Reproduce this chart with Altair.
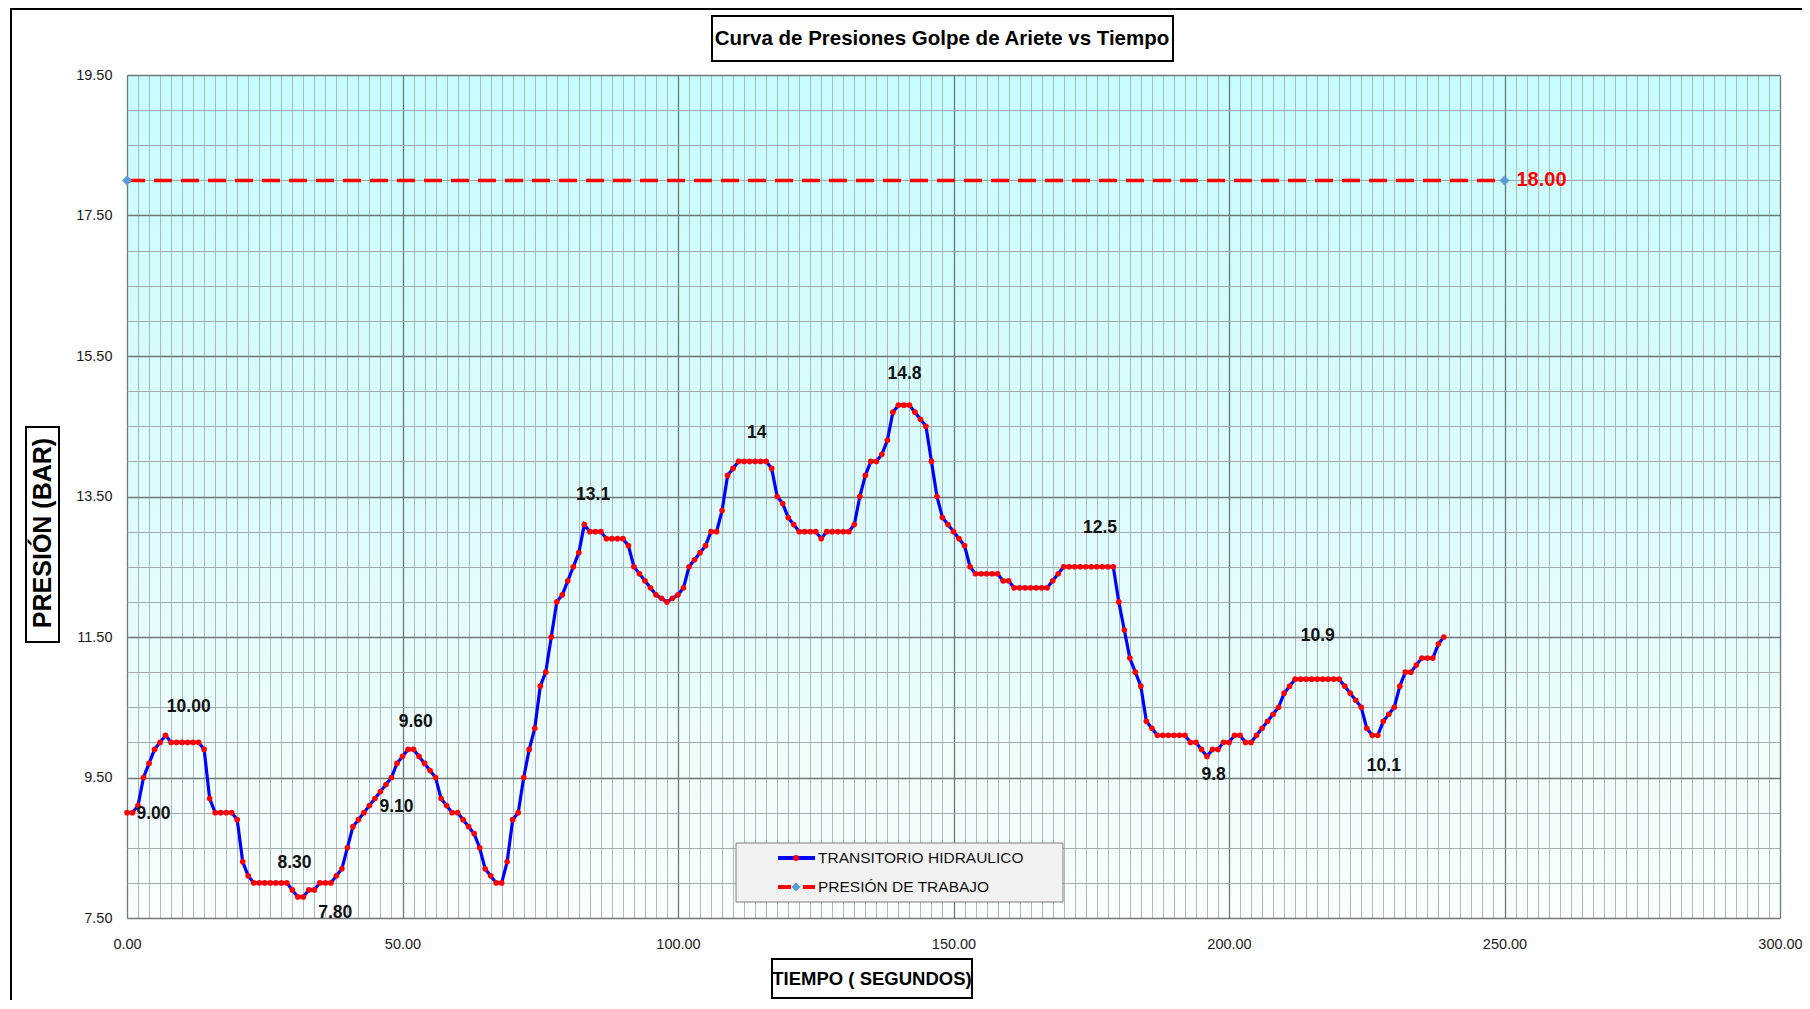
import altair as alt
import pandas as pd

# ---------------- data ----------------
time_s = [
    0, 1, 2, 3, 4, 5, 6, 7, 8, 9, 10, 11, 12, 13, 14, 15, 16, 17, 18, 19,
    20, 21, 22, 23, 24, 25, 26, 27, 28, 29, 30, 31, 32, 33, 34, 35, 36, 37, 38, 39,
    40, 41, 42, 43, 44, 45, 46, 47, 48, 49, 50, 51, 52, 53, 54, 55, 56, 57, 58, 59,
    60, 61, 62, 63, 64, 65, 66, 67, 68, 69, 70, 71, 72, 73, 74, 75, 76, 77, 78, 79,
    80, 81, 82, 83, 84, 85, 86, 87, 88, 89, 90, 91, 92, 93, 94, 95, 96, 97, 98, 99,
    100, 101, 102, 103, 104, 105, 106, 107, 108, 109, 110, 111, 112, 113, 114, 115, 116, 117, 118, 119,
    120, 121, 122, 123, 124, 125, 126, 127, 128, 129, 130, 131, 132, 133, 134, 135, 136, 137, 138, 139,
    140, 141, 142, 143, 144, 145, 146, 147, 148, 149, 150, 151, 152, 153, 154, 155, 156, 157, 158, 159,
    160, 161, 162, 163, 164, 165, 166, 167, 168, 169, 170, 171, 172, 173, 174, 175, 176, 177, 178, 179,
    180, 181, 182, 183, 184, 185, 186, 187, 188, 189, 190, 191, 192, 193, 194, 195, 196, 197, 198, 199,
    200, 201, 202, 203, 204, 205, 206, 207, 208, 209, 210, 211, 212, 213, 214, 215, 216, 217, 218, 219,
    220, 221, 222, 223, 224, 225, 226, 227, 228, 229, 230, 231, 232, 233, 234, 235, 236, 237, 238, 239,
]

pressure_bar = [
    9.0, 9.0, 9.1, 9.5, 9.7, 9.9, 10.0, 10.1, 10.0, 10.0,
    10.0, 10.0, 10.0, 10.0, 9.9, 9.2, 9.0, 9.0, 9.0, 9.0,
    8.9, 8.3, 8.1, 8.0, 8.0, 8.0, 8.0, 8.0, 8.0, 8.0,
    7.9, 7.8, 7.8, 7.9, 7.9, 8.0, 8.0, 8.0, 8.1, 8.2,
    8.5, 8.8, 8.9, 9.0, 9.1, 9.2, 9.3, 9.4, 9.5, 9.7,
    9.8, 9.9, 9.9, 9.8, 9.7, 9.6, 9.5, 9.2, 9.1, 9.0,
    9.0, 8.9, 8.8, 8.7, 8.5, 8.2, 8.1, 8.0, 8.0, 8.3,
    8.9, 9.0, 9.5, 9.9, 10.2, 10.8, 11.0, 11.5, 12.0, 12.1,
    12.3, 12.5, 12.7, 13.1, 13.0, 13.0, 13.0, 12.9, 12.9, 12.9,
    12.9, 12.8, 12.5, 12.4, 12.3, 12.2, 12.1, 12.05, 12.0, 12.05,
    12.1, 12.2, 12.5, 12.6, 12.7, 12.8, 13.0, 13.0, 13.3, 13.8,
    13.9, 14.0, 14.0, 14.0, 14.0, 14.0, 14.0, 13.9, 13.5, 13.4,
    13.2, 13.1, 13.0, 13.0, 13.0, 13.0, 12.9, 13.0, 13.0, 13.0,
    13.0, 13.0, 13.1, 13.5, 13.8, 14.0, 14.0, 14.1, 14.3, 14.7,
    14.8, 14.8, 14.8, 14.7, 14.6, 14.5, 14.0, 13.5, 13.2, 13.1,
    13.0, 12.9, 12.8, 12.5, 12.4, 12.4, 12.4, 12.4, 12.4, 12.3,
    12.3, 12.2, 12.2, 12.2, 12.2, 12.2, 12.2, 12.2, 12.3, 12.4,
    12.5, 12.5, 12.5, 12.5, 12.5, 12.5, 12.5, 12.5, 12.5, 12.5,
    12.0, 11.6, 11.2, 11.0, 10.8, 10.3, 10.2, 10.1, 10.1, 10.1,
    10.1, 10.1, 10.1, 10.0, 10.0, 9.9, 9.8, 9.9, 9.9, 10.0,
    10.0, 10.1, 10.1, 10.0, 10.0, 10.1, 10.2, 10.3, 10.4, 10.5,
    10.7, 10.8, 10.9, 10.9, 10.9, 10.9, 10.9, 10.9, 10.9, 10.9,
    10.9, 10.8, 10.7, 10.6, 10.5, 10.2, 10.1, 10.1, 10.3, 10.4,
    10.5, 10.8, 11.0, 11.0, 11.1, 11.2, 11.2, 11.2, 11.4, 11.5,
]

work_time_s = [0, 250]
work_pressure_bar = [18.0, 18.0]

annot_text = ["10.00", "9.00", "8.30", "7.80", "9.60", "9.10", "13.1",
              "14", "14.8", "12.5", "9.8", "10.9", "10.1"]
annot_time = [11.2, 4.8, 30.4, 37.8, 52.4, 48.9, 84.6,
              114.3, 141.1, 176.6, 197.2, 216.1, 228.1]
annot_pressure = [10.5, 8.98, 8.28, 7.57, 10.29, 9.08, 13.52,
                  14.4, 15.24, 13.05, 9.54, 11.51, 9.67]

series_names = ["TRANSITORIO HIDRAULICO", "PRESIÓN DE TRABAJO"]
chart_title = "Curva de Presiones Golpe de Ariete vs Tiempo"
x_title = "TIEMPO ( SEGUNDOS)"
y_title = "PRESIÓN (BAR)"

# ---------------- styling ----------------
FONT = "'Liberation Sans', Arial, sans-serif"
W, H = 1653, 843

x_grid_values = list(range(0, 301, 2))
y_grid_values = [7.5 + 0.5 * k for k in range(25)]

x_major = "datum.value % 50 === 0"
y_major = "(datum.value - 7.5) % 2 === 0"

x_axis = alt.Axis(
    values=x_grid_values, grid=True, ticks=False, domain=False,
    gridColor={"condition": {"test": x_major, "value": "#6f7878"}, "value": "#a8b2b2"},
    gridWidth={"condition": {"test": x_major, "value": 1.3}, "value": 0.9},
    labelExpr=f"{x_major} ? format(datum.value, '.2f') : ''",
    labelFont=FONT, labelFontSize=14.5, labelColor="#1a1a1a",
    labelPadding=19, labelFlush=False, labelOverlap=False, title=None,
)
y_axis = alt.Axis(
    values=y_grid_values, grid=True, ticks=False, domain=False,
    gridColor={"condition": {"test": y_major, "value": "#6f7878"}, "value": "#9aa4a4"},
    gridWidth={"condition": {"test": y_major, "value": 1.3}, "value": 0.9},
    labelExpr=f"{y_major} ? format(datum.value, '.2f') : ''",
    labelFont=FONT, labelFontSize=14.5, labelColor="#1a1a1a",
    labelPadding=15, labelFlush=False, labelOverlap=False, title=None,
)

X = alt.X("t:Q", scale=alt.Scale(domain=[0, 300], nice=False, zero=False), axis=x_axis)
Y = alt.Y("p:Q", scale=alt.Scale(domain=[7.5, 19.5], nice=False, zero=False), axis=y_axis)

main_df = pd.DataFrame({"t": time_s, "p": pressure_bar})
work_df = pd.DataFrame({"t": work_time_s, "p": work_pressure_bar})
annot_df = pd.DataFrame({"t": annot_time, "p": annot_pressure, "label": annot_text})
work_lbl_df = pd.DataFrame({"t": [work_time_s[-1]], "p": [work_pressure_bar[-1]],
                            "label": [f"{work_pressure_bar[-1]:.2f}"]})

work_line = alt.Chart(work_df).mark_line(
    color="#ff0000", strokeWidth=3.5, strokeDash=[18, 9]).encode(x=X, y=Y)
work_pts = alt.Chart(work_df).mark_point(
    shape="diamond", filled=True, color="#5b9bd5", size=100, opacity=1).encode(x=X, y=Y)
main_line = alt.Chart(main_df).mark_line(color="#0000ff", strokeWidth=3.2).encode(x=X, y=Y)
main_pts = alt.Chart(main_df).mark_circle(color="#ff0000", size=32, opacity=1).encode(x=X, y=Y)
annots = alt.Chart(annot_df).mark_text(
    font=FONT, fontSize=17.5, fontWeight="bold", color="#111111").encode(x=X, y=Y, text="label:N")
work_lbl = alt.Chart(work_lbl_df).mark_text(
    font=FONT, fontSize=20, fontWeight="bold", color="#ff0000", align="left", dx=12
).encode(x=X, y=Y, text="label:N")

one = pd.DataFrame({"k": [0]})


def box(x1, x2, y1, y2, fill, stroke, sw):
    return alt.Chart(one).mark_rect(fill=fill, stroke=stroke, strokeWidth=sw).encode(
        x=alt.value(x1), x2=alt.value(x2), y=alt.value(y1), y2=alt.value(y2))


def label(text, x, y, **kw):
    return alt.Chart(pd.DataFrame({"s": [text]})).mark_text(baseline="middle", **kw).encode(
        x=alt.value(x), y=alt.value(y), text="s:N")


def hrule(x1, x2, y, color, sw):
    return alt.Chart(one).mark_rule(color=color, strokeWidth=sw).encode(
        x=alt.value(x1), x2=alt.value(x2), y=alt.value(y))


# legend (drawn by hand)
leg_box = box(609, 936, 768, 827, "#f2f2f2", "#7f7f7f", 1)
leg_l1 = hrule(651, 688, 783, "#0000ff", 4)
leg_p1 = alt.Chart(one).mark_circle(color="#ff0000", size=34, opacity=1).encode(
    x=alt.value(669), y=alt.value(783))
leg_l2a = hrule(651, 664, 812, "#ff0000", 4)
leg_l2b = hrule(676, 688, 812, "#ff0000", 4)
leg_p2 = alt.Chart(one).mark_point(shape="diamond", filled=True, color="#5b9bd5",
                                   size=80, opacity=1).encode(x=alt.value(669), y=alt.value(812))
leg_t1 = label(series_names[0], 691, 783, align="left", font=FONT, fontSize=15.5, color="#111111")
leg_t2 = label(series_names[1], 691, 812, align="left", font=FONT, fontSize=15.5, color="#111111")

# titles with boxes
title_box = box(585, 1046, -59, -14, "white", "black", 2)
title_txt = label(chart_title, 815, -36, align="center", font=FONT, fontSize=20.5,
                  fontWeight="bold", color="black")
xt_box = box(645, 845, 884, 923, "white", "black", 2)
xt_txt = label(x_title, 745, 904, align="center", font=FONT, fontSize=18.5,
               fontWeight="bold", color="black")
yt_box = box(-101, -68, 352, 567, "white", "black", 2)
yt_txt = label(y_title, -84, 458, align="center", font=FONT, fontSize=25,
               fontWeight="bold", color="black", angle=270)

# outer frame (top and left edges)
frame_top = hrule(-116, 1675, -66, "black", 2)
frame_left = alt.Chart(one).mark_rule(color="black", strokeWidth=2).encode(
    x=alt.value(-116), y=alt.value(-67), y2=alt.value(930))

GRAD = ("{'gradient': 'linear', 'x1': 0, 'y1': 0, 'x2': 0, 'y2': 1, "
        "'stops': [{'offset': 0, 'color': '#c6fdfd'}, {'offset': 0.5, 'color': '#ddfbfb'}, "
        "{'offset': 1, 'color': '#fafefe'}]}")

chart = alt.layer(
    work_line, work_pts, main_line, main_pts, annots, work_lbl,
    leg_box, leg_l1, leg_p1, leg_l2a, leg_l2b, leg_p2, leg_t1, leg_t2,
    title_box, title_txt, xt_box, xt_txt, yt_box, yt_txt,
    frame_top, frame_left,
).properties(
    width=W, height=H,
    autosize=alt.AutoSizeParams(type="none"),
    padding={"left": 119, "top": 67, "right": 22, "bottom": 82},
    background="white",
).configure_view(stroke=None, fill={"expr": GRAD})

chart.save("out.html", embed_options={"renderer": "svg", "actions": False})
